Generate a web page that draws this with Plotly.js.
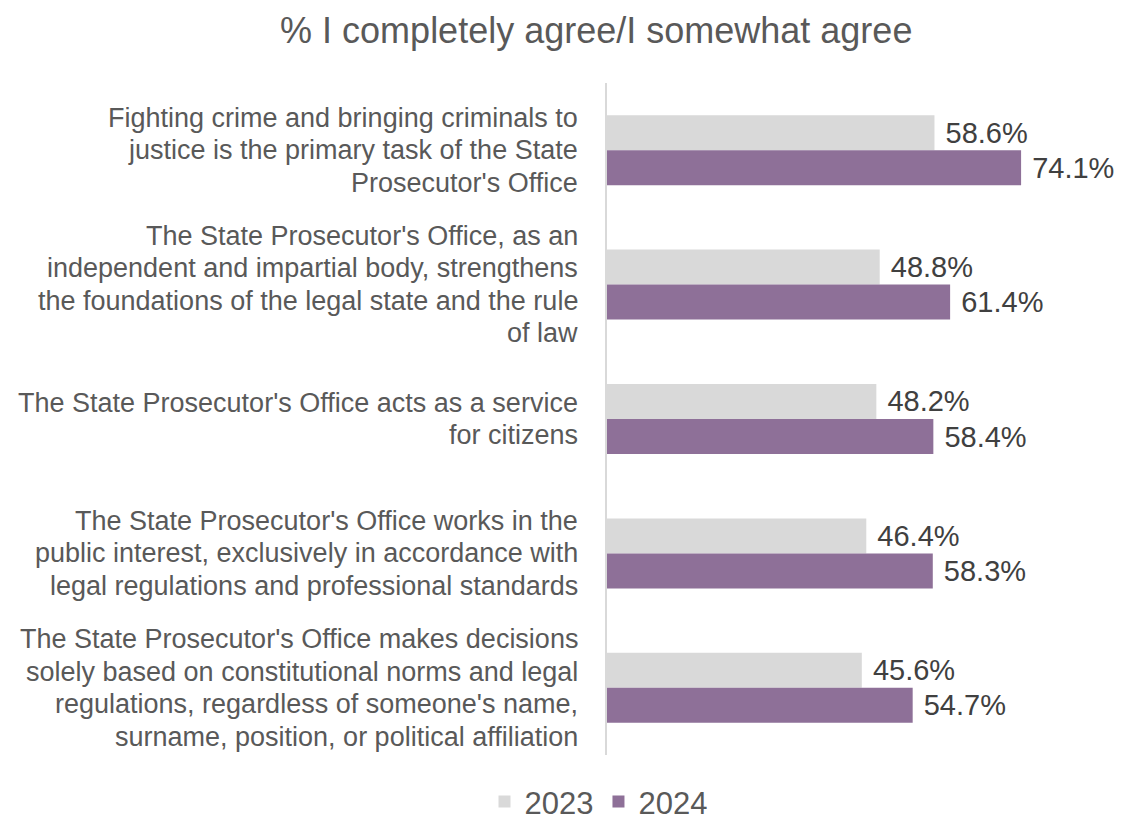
<!DOCTYPE html>
<html>
<head>
<meta charset="utf-8">
<script src="https://cdn.plot.ly/plotly-3.0.1.min.js"></script>
<style>html,body{margin:0;padding:0;background:#fff;}#chart{width:1125px;height:820px;}</style>
</head>
<body>
<div id="chart"></div>
<script>
const categories = [
  "Fighting crime and bringing criminals to<br>justice is the primary task of the State<br>Prosecutor's Office",
  "The State Prosecutor's Office, as an<br>independent and impartial body, strengthens<br>the foundations of the legal state and the rule<br>of law",
  "The State Prosecutor's Office acts as a service<br>for citizens",
  "The State Prosecutor's Office works in the<br>public interest, exclusively in accordance with<br>legal regulations and professional standards",
  "The State Prosecutor's Office makes decisions<br>solely based on constitutional norms and legal<br>regulations, regardless of someone's name,<br>surname, position, or political affiliation"
];
const values2023 = [58.6, 48.8, 48.2, 46.4, 45.6];
const values2024 = [74.1, 61.4, 58.4, 58.3, 54.7];
const seriesNames = ["2023", "2024"];
const titleText = "% I completely agree/I somewhat agree";

const FONT = "Liberation Sans, Arial, sans-serif";

function barTrace(name, vals, color) {
  return {
    type: "bar",
    orientation: "h",
    name: name,
    y: categories,
    x: vals,
    marker: {color: color},
    text: vals.map(v => "\u00A0" + v.toFixed(1) + "%"),
    textposition: "outside",
    constraintext: "none",
    cliponaxis: false,
    textfont: {family: FONT, size: 29, color: "#404040"},
    hoverinfo: "x+name"
  };
}

const traces = [
  barTrace(seriesNames[0], values2023, "#D9D9D9"),
  barTrace(seriesNames[1], values2024, "#8E7098")
];

const LINE = 32.5;
const annotations = [];
categories.forEach(cat => {
  const lines = cat.split("<br>");
  const n = lines.length;
  lines.forEach((ln, i) => {
    annotations.push({
      xref: "paper", yref: "y",
      x: 0, y: cat,
      xanchor: "right", yanchor: "middle",
      xshift: -27,
      yshift: -(i - (n - 1) / 2) * LINE,
      text: ln, showarrow: false, align: "right",
      font: {family: FONT, size: 27, color: "#595959"}
    });
  });
});

const layout = {
  width: 1125, height: 820,
  margin: {l: 607, r: 5, t: 83, b: 65, pad: 0, autoexpand: false},
  paper_bgcolor: "#fff", plot_bgcolor: "#fff",
  title: {
    text: titleText,
    x: 0.53, xanchor: "center",
    y: 0.963, yanchor: "middle",
    font: {family: FONT, size: 36, color: "#595959"}
  },
  barmode: "group",
  bargap: 0.479,
  bargroupgap: 0,
  xaxis: {range: [0, 91.8], showgrid: false, zeroline: false, showticklabels: false, showline: false, ticks: ""},
  yaxis: {
    autorange: "reversed", showgrid: false, zeroline: false,
    showticklabels: false, ticks: "",
    showline: true, linecolor: "#D9D9D9", linewidth: 2
  },
  showlegend: true,
  legend: {
    orientation: "h",
    xref: "container", yref: "container",
    x: 0.532, xanchor: "center",
    y: 0.022, yanchor: "middle",
    traceorder: "normal",
    font: {family: FONT, size: 31, color: "#595959"},
    itemclick: false
  },
  annotations: annotations
};

Plotly.newPlot("chart", traces, layout, {displayModeBar: false, staticPlot: true});
</script>
</body>
</html>
